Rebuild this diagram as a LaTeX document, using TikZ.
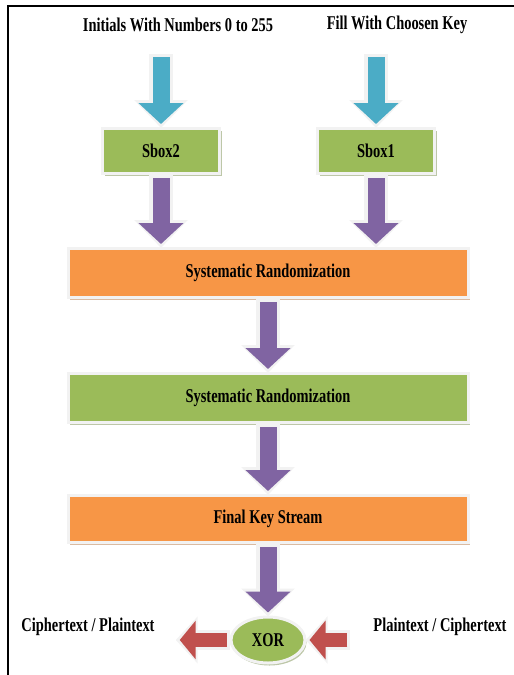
\documentclass[tikz,border=0pt]{standalone}
\usepackage{fontspec}
\setmainfont{Liberation Serif}[FakeStretch=0.74]
\usetikzlibrary{positioning, shapes.geometric, arrows.meta, shadows}

\definecolor{inblue}{HTML}{4BACC6}
\definecolor{stagegreen}{HTML}{9BBB59}
\definecolor{stageorange}{HTML}{F79646}
\definecolor{flowpurple}{HTML}{8064A2}
\definecolor{outred}{HTML}{C0504D}
\definecolor{rimwhite}{HTML}{F2F2F2}

% block arrow: light rim first, coloured body on top
\newcommand{\flowarrow}[4][arrowrim]{%
  \draw[#1] (#3) -- (#4);
  \draw[#2] (#3) -- (#4);}

\begin{document}
\begin{tikzpicture}[x=1pt, y=-1pt,
    every node/.style={font=\bfseries\fontsize{19.5}{22}\selectfont},
    txtlbl/.style={inner sep=3pt},
    stage/.style={rectangle, fill=#1, draw=rimwhite, line width=3pt,
      drop shadow={fill=#1!70!black, opacity=0.45, shadow xshift=2pt, shadow yshift=-2.5pt}},
    widestage/.style={stage=#1, minimum width=400pt, minimum height=49pt},
    arrowrim/.style={draw=rimwhite, line width=24pt,
      -{Triangle[width=52pt,length=28pt]}, shorten <=-3pt, shorten >=-4pt},
    downarrow/.style={draw=#1, line width=17pt, -{Triangle[width=44pt,length=21pt]}},
    siderim/.style={draw=rimwhite, line width=20pt,
      -{Triangle[width=46pt,length=22pt]}, shorten <=-3pt, shorten >=-4pt},
    sidearrow/.style={draw=outred, line width=14pt, -{Triangle[width=38pt,length=16pt]}}
    ]

    \useasboundingbox (0,0) rectangle (514,675);
    \draw[line width=2pt] (8,675) -- (8,6) -- (514,6);

    % ---------- inputs ----------
    \node[txtlbl] (initlbl) at (178,25) {Initials With Numbers 0 to 255};
    \node[txtlbl] (filllbl) at (397,25) {Fill With Choosen Key};
    \coordinate (initin) at (161,57);
    \coordinate (fillin) at (376,57);

    % ---------- s-boxes ----------
    \node[stage=stagegreen, minimum width=117pt, minimum height=45pt] (sbox2) at (161,151) {Sbox2};
    \node[stage=stagegreen, minimum width=117pt, minimum height=45pt] (sbox1) at (376,151) {Sbox1};

    % ---------- stages ----------
    \node[widestage=stageorange] (rand1) at (268,273) {Systematic Randomization};
    \node[widestage=stagegreen] (rand2) at (268,398) {Systematic Randomization};
    \node[widestage=stageorange, minimum height=47pt] (keystream) at (268,519) {Final Key Stream};

    % ---------- xor ----------
    \node[ellipse, fill=stagegreen, draw=rimwhite, line width=3pt, minimum width=74pt, minimum height=46pt,
      drop shadow={fill=stagegreen!70!black, opacity=0.45, shadow xshift=1.5pt, shadow yshift=-2.5pt}]
      (xor) at (268,640) {XOR};
    \node[txtlbl] (ctlbl) at (88,627) {Ciphertext / Plaintext};
    \node[txtlbl] (ptlbl) at (440,627) {Plaintext / Ciphertext};

    % ---------- arrows ----------
    \flowarrow{downarrow=inblue}{initin}{[yshift=3pt]sbox2.north}
    \flowarrow{downarrow=inblue}{fillin}{[yshift=3pt]sbox1.north}
    \flowarrow{downarrow=flowpurple}{[yshift=-3pt]sbox2.south}{[yshift=3pt]sbox2.south |- rand1.north}
    \flowarrow{downarrow=flowpurple}{[yshift=-3pt]sbox1.south}{[yshift=3pt]sbox1.south |- rand1.north}
    \flowarrow{downarrow=flowpurple}{[yshift=-3pt]rand1.south}{[yshift=3pt]rand2.north}
    \flowarrow{downarrow=flowpurple}{[yshift=-3pt]rand2.south}{[yshift=3pt]keystream.north}
    \flowarrow{downarrow=flowpurple}{[yshift=-3pt]keystream.south}{[yshift=3pt]xor.north}
    \flowarrow[siderim]{sidearrow}{[xshift=-3pt]xor.west}{[xshift=22pt]ctlbl.east |- xor.west}
    \flowarrow[siderim]{sidearrow}{[xshift=-23pt]ptlbl.west |- xor.east}{[xshift=3pt]xor.east}

\end{tikzpicture}
\end{document}
